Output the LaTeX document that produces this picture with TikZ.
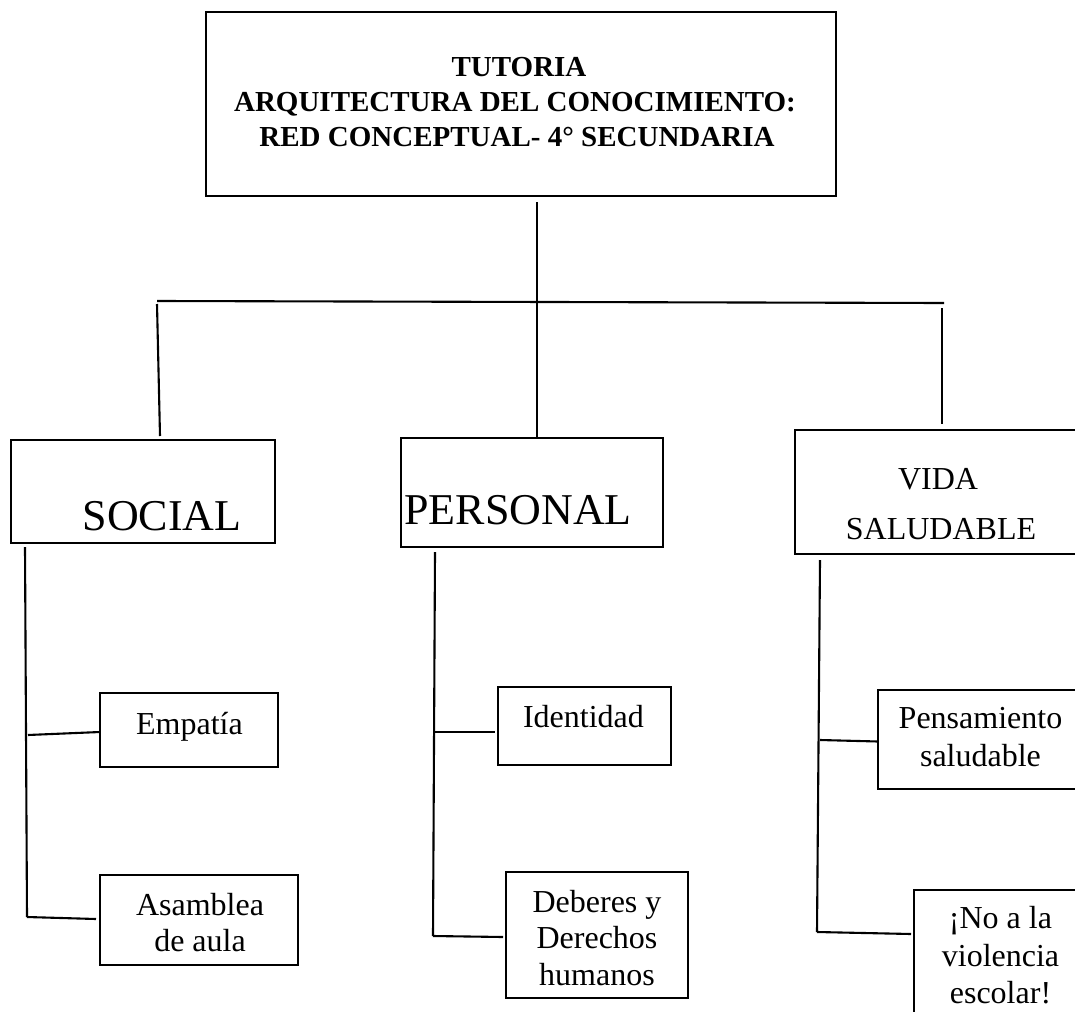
\documentclass[tikz,border=0pt]{standalone}
\usepackage{fontspec}
\setmainfont{Liberation Serif}
\begin{document}
\begin{tikzpicture}[x=1pt,y=-1pt,
  box/.style={draw, line width=2.1pt, rectangle, inner sep=0pt, outer sep=0pt, anchor=north west},
  conn/.style={line width=2.1pt},
  lbl/.style={anchor=base, inner sep=0pt},
  ttl/.style={lbl, font=\fontsize{29}{34}\selectfont\bfseries},
  big/.style={lbl, font=\fontsize{44}{50}\selectfont},
  mid/.style={lbl, font=\fontsize{32}{37}\selectfont},
  txt/.style={lbl, font=\fontsize{32}{37}\selectfont}]
\useasboundingbox (0,0) rectangle (1075,1011);
\clip (0,0) rectangle (1075,1011);
% boxes
\node[box, minimum width=630pt, minimum height=184pt] (title) at (206,12) {};
\node[box, minimum width=264pt, minimum height=103pt] (social) at (11,440) {};
\node[box, minimum width=262pt, minimum height=109pt] (personal) at (401,438) {};
\node[box, minimum width=300pt, minimum height=124pt] (vida) at (795,430) {};
\node[box, minimum width=178pt, minimum height=74pt] (empatia) at (100,693) {};
\node[box, minimum width=198pt, minimum height=90pt] (asamblea) at (100,875) {};
\node[box, minimum width=173pt, minimum height=78pt] (identidad) at (498,687) {};
\node[box, minimum width=182pt, minimum height=126pt] (deberes) at (506,872) {};
\node[box, minimum width=220pt, minimum height=99pt] (pensamiento) at (878,690) {};
\node[box, minimum width=200pt, minimum height=160pt] (noviolencia) at (914,890) {};
% texts
\node[ttl] (t1) at (519,77) {TUTORIA};
\node[ttl] (t2) at (515,112) {ARQUITECTURA DEL CONOCIMIENTO:};
\node[ttl] (t3) at (517,147) {RED CONCEPTUAL- 4° SECUNDARIA};
\node[big] (tsocial) at (162,530) {SOCIAL};
\node[big] (tpersonal) at (518,524) {PERSONAL};
\node[mid] (tvida1) at (938,489) {VIDA};
\node[mid] (tvida2) at (941,539) {SALUDABLE};
\node[txt] (temp) at (189.5,734) {Empatía};
\node[txt] (tasa1) at (200,915) {Asamblea};
\node[txt] (tasa2) at (200,951) {de aula};
\node[txt] (tide) at (583.5,727) {Identidad};
\node[txt] (tdeb1) at (597,912) {Deberes y};
\node[txt] (tdeb2) at (597,948) {Derechos};
\node[txt] (tdeb3) at (597,985) {humanos};
\node[txt] (tpen1) at (980.5,728) {Pensamiento};
\node[txt] (tpen2) at (980.5,766) {saludable};
\node[txt] (tno1) at (1000.5,928) {¡No a la};
\node[txt] (tno2) at (1000.5,966) {violencia};
\node[txt] (tno3) at (1000.5,1003) {escolar!};
% top connectors
\coordinate (hl) at (157,301);
\coordinate (hr) at (944,303);
\coordinate (ldt) at (157,304);
\coordinate (rdt) at (942,308);
\draw[conn] (hl) -- (hr);
\draw[conn] ([xshift=16pt,yshift=-6pt]title.south) -- ([xshift=5pt]personal.north);
\draw[conn] (ldt) -- ([xshift=17pt,yshift=4pt]social.north);
\draw[conn] (rdt) -- ([xshift=-3pt,yshift=6pt]vida.north);
% social branch
\coordinate (sbot) at (27,917);
\coordinate (semp) at (28,735);
\draw[conn] ([xshift=14pt,yshift=-4pt]social.south west) -- (sbot);
\draw[conn] (semp) -- ([yshift=-2pt]empatia.west);
\draw[conn] (sbot) -- ([xshift=-4pt,yshift=1pt]asamblea.west);
% personal branch
\coordinate (pbot) at (433,936);
\coordinate (pide) at (434,732);
\draw[conn] ([xshift=34pt,yshift=-5pt]personal.south west) -- (pbot);
\draw[conn] (pide) -- ([xshift=-3pt,yshift=-6pt]identidad.west);
\draw[conn] (pbot) -- ([xshift=-3pt,yshift=-2pt]deberes.west);
% vida branch
\coordinate (vbot) at (817,932);
\coordinate (vpen) at (820,740);
\draw[conn] ([xshift=25pt,yshift=-6pt]vida.south west) -- (vbot);
\draw[conn] (vpen) -- ([yshift=-2pt]pensamiento.west);
\draw[conn] (vbot) -- ([xshift=-3pt,yshift=-44pt]noviolencia.north west);
\end{tikzpicture}
\end{document}
